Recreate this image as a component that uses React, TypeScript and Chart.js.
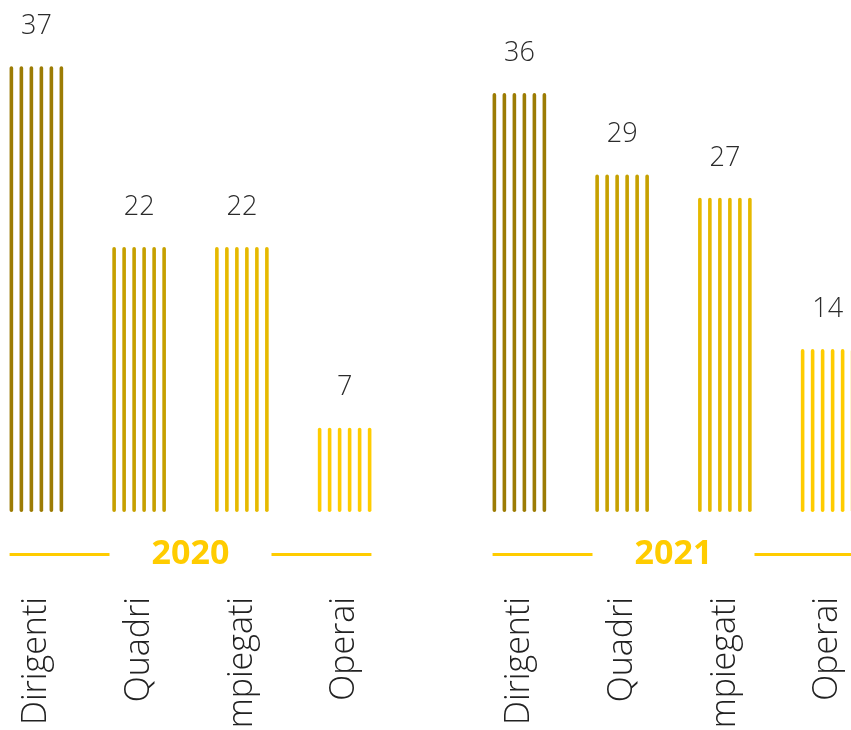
import React, { useEffect, useRef } from "react";
import { Chart, registerables } from "chart.js";

Chart.register(...registerables);

const categories = ["Dirigenti", "Quadri", "Impiegati", "Operai"];
const values2020 = [37, 22, 22, 7];
const values2021 = [36, 29, 27, 14];
const barColors = ["#9c7c04", "#c6a000", "#e6b900", "#ffcc00"];
const yearColor = "#ffcc00";
const LINES_PER_BAR = 6;

const FONT = "'Open Sans'";
const CANVAS_W = 411;
const CANVAS_H = 780;

type Props = { year: string; values: number[]; yMax: number; left: number };

function YearChart({ year, values, yMax, left }: Props) {
  const ref = useRef<HTMLCanvasElement | null>(null);

  useEffect(() => {
    const canvas = ref.current;
    if (!canvas) return;

    const valueLabels = {
      id: "valueLabels",
      afterDatasetsDraw(chart: any) {
        const { ctx, scales } = chart;
        const xs = scales.x;
        const ys = scales.y;
        ctx.save();
        ctx.font = `300 27px ${FONT}`;
        ctx.fillStyle = "#2b2b2b";
        ctx.textAlign = "center";
        ctx.textBaseline = "middle";
        values.forEach((v, i) => {
          ctx.fillText(String(v), xs.getPixelForValue(i), ys.getPixelForValue(v) - 40);
        });
        ctx.restore();
      },
    };

    const yearRule = {
      id: "yearRule",
      afterDraw(chart: any) {
        const { ctx } = chart;
        const first = chart.getDatasetMeta(0).data[0];
        const lastMeta = chart.getDatasetMeta(LINES_PER_BAR - 1);
        const last = lastMeta.data[lastMeta.data.length - 1];
        if (!first || !last) return;
        const l = first.x - first.width / 2;
        const r = last.x + last.width / 2;
        const c = (l + r) / 2;
        const gap = 81;
        const y = chart.scales.x.top + 42.5;
        ctx.save();
        ctx.strokeStyle = yearColor;
        ctx.lineWidth = 3;
        ctx.beginPath();
        ctx.moveTo(l, y);
        ctx.lineTo(c - gap, y);
        ctx.moveTo(c + gap, y);
        ctx.lineTo(r, y);
        ctx.stroke();
        ctx.restore();
      },
    };

    const datasets = Array.from({ length: LINES_PER_BAR }, () => ({
      data: values,
      backgroundColor: barColors,
      barPercentage: 0.36,
      categoryPercentage: 0.584,
      borderRadius: 2,
      borderSkipped: false as const,
      xAxisID: "x",
      yAxisID: "y",
    }));

    const chart = new Chart(canvas, {
      type: "bar",
      data: { labels: categories, datasets },
      options: {
        animation: false,
        responsive: false,
        layout: { padding: 0 },
        plugins: {
          legend: { display: false },
          tooltip: { enabled: false },
        },
        scales: {
          x: {
            type: "category",
            position: "bottom",
            weight: 0,
            offset: true,
            grid: { display: false, drawTicks: false },
            border: { display: false },
            ticks: { display: false },
            title: {
              display: true,
              text: year,
              color: yearColor,
              font: { family: FONT, weight: "bold", size: 34 },
              padding: { top: 0, bottom: 22 },
            },
            afterFit: (s: any) => {
              s.height = 85;
            },
          },
          x2: {
            type: "category",
            labels: categories,
            position: "bottom",
            weight: 1,
            offset: true,
            grid: { display: false, drawTicks: false },
            border: { display: false },
            ticks: {
              autoSkip: false,
              maxRotation: 90,
              minRotation: 90,
              padding: 0,
              color: "#222222",
              font: { family: FONT, weight: 300, size: 34 },
            },
            afterFit: (s: any) => {
              s.height = CANVAS_H - 512 - 85;
            },
          },
          y: { display: false, min: 0, max: yMax },
        },
      } as any,
      plugins: [valueLabels, yearRule],
    });

    return () => chart.destroy();
  }, [year, values, yMax]);

  return (
    <div style={{ position: "absolute", left, top: 0, width: CANVAS_W, height: CANVAS_H }}>
      <canvas ref={ref} width={CANVAS_W} height={CANVAS_H} />
    </div>
  );
}

export default function App() {
  return (
    <div
      style={{
        position: "absolute",
        left: 0,
        top: 0,
        width: 851,
        height: 730,
        overflow: "hidden",
        background: "#ffffff",
      }}
    >
      <YearChart year="2020" values={values2020} yMax={42.5} left={-15} />
      <YearChart year="2021" values={values2021} yMax={44} left={468} />
    </div>
  );
}
